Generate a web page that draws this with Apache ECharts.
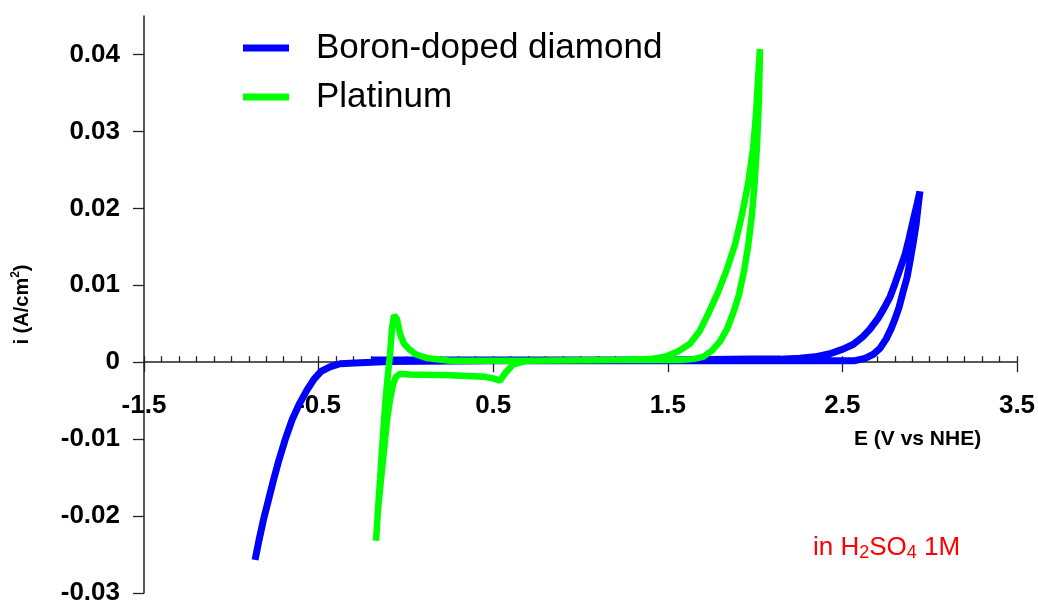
<!DOCTYPE html>
<html>
<head>
<meta charset="utf-8">
<title>Cyclic voltammetry: BDD vs Pt</title>
<script src="https://cdn.jsdelivr.net/npm/echarts@6/dist/echarts.min.js"></script>
<style>
  html, body { margin: 0; padding: 0; background: #fff; }
  #chart { width: 1038px; height: 603px; }
</style>
</head>
<body>
<div id="chart"></div>
<script>
// Boron-doped diamond voltammogram: potential (V vs NHE) and current density (A/cm2)
const bddE = [-0.864, -0.841, -0.816, -0.787, -0.758, -0.727, -0.692, -0.652, -0.612, -0.566, -0.526, -0.486,
  -0.435, -0.377, -0.292, -0.100, 0.500, 1.500, 2.300, 2.500,
  2.572, 2.629, 2.675, 2.715, 2.750, 2.778, 2.801, 2.824, 2.847, 2.870, 2.887, 2.904, 2.922, 2.933, 2.944,
  2.927, 2.904, 2.881, 2.859, 2.830, 2.801, 2.773, 2.738, 2.704, 2.658, 2.612, 2.561, 2.503, 2.429, 2.343,
  2.257, 2.143, 1.971, 1.500, 0.500, -0.200];
const bddI = [-0.0257, -0.0231, -0.0205, -0.0179, -0.0153, -0.0127, -0.0101, -0.0075, -0.0055, -0.0036, -0.0022, -0.0012,
  -0.0006, -0.0002, -0.0001, 0.0001, 0.0002, 0.0002, 0.0002, 0.0002,
  0.0002, 0.0005, 0.0010, 0.0018, 0.0030, 0.0043, 0.0056, 0.0071, 0.0091, 0.0110, 0.0131, 0.0153, 0.0179, 0.0201, 0.0222,
  0.0205, 0.0183, 0.0160, 0.0140, 0.0121, 0.0102, 0.0085, 0.0070, 0.0057, 0.0043, 0.0032, 0.0023, 0.0017, 0.0011, 0.0007,
  0.0005, 0.0004, 0.0004, 0.0003, 0.0003, 0.0003];

// Platinum voltammogram
const ptE = [-0.171, -0.160, -0.148, -0.137, -0.125, -0.114, -0.103, -0.091, -0.080, -0.068, -0.051, -0.034, -0.011,
  0.018, 0.058, 0.127, 0.253, 0.700, 1.200, 1.570,
  1.644, 1.702, 1.753, 1.799, 1.839, 1.873, 1.908, 1.936, 1.959, 1.982, 1.999, 2.011, 2.022, 2.028,
  2.017, 2.005, 1.988, 1.959, 1.925, 1.885, 1.839, 1.788, 1.736, 1.684, 1.627, 1.558, 1.484, 1.398, 1.226,
  0.694, 0.613, 0.573, 0.539, 0.499, 0.453, 0.253, 0.023, -0.034, -0.057, -0.074, -0.091, -0.108, -0.125,
  -0.143, -0.160, -0.171];
const ptI = [-0.0232, -0.0192, -0.0153, -0.0114, -0.0075, -0.0042, -0.0016, 0.0010, 0.0043, 0.0061, 0.0056, 0.0037, 0.0024,
  0.0017, 0.0010, 0.0005, 0.0002, 0.0002, 0.0003, 0.0003,
  0.0004, 0.0007, 0.0015, 0.0027, 0.0043, 0.0063, 0.0088, 0.0118, 0.0149, 0.0192, 0.0238, 0.0283, 0.0342, 0.0407,
  0.0368, 0.0322, 0.0277, 0.0231, 0.0192, 0.0153, 0.0121, 0.0091, 0.0065, 0.0041, 0.0024, 0.0014, 0.0007, 0.0004, 0.0003,
  0.0002, -0.0003, -0.0013, -0.0024, -0.0021, -0.0019, -0.0017, -0.0016, -0.0015, -0.0019, -0.0029, -0.0049, -0.0075, -0.0114,
  -0.0153, -0.0192, -0.0232];

const seriesNames = ['Boron-doped diamond', 'Platinum'];
const seriesColors = ['#0000ff', '#00ff00'];

// Axis tick positions and labels
const xMajorTicks = [-1.5, -0.5, 0.5, 1.5, 2.5, 3.5];
const yTicks = [-0.03, -0.02, -0.01, 0, 0.01, 0.02, 0.03, 0.04];
const xMinorStep = 0.1;

const xMinorTicks = [];
for (let k = 0; k <= 50; k++) {
  xMinorTicks.push(Math.round((xMajorTicks[0] + k * xMinorStep) * 10) / 10);
}

const zip = (xs, ys) => xs.map((x, j) => [x, ys[j]]);

const FONT = 'Arial, "Liberation Sans", sans-serif';
const AXIS_COLOR = '#222';

// plot box and the y range; the E axis is drawn along i = 0
const GRID = { left: 144, right: 21, top: 16, bottom: 10 };
const Y_MIN = -0.03, Y_MAX = 0.045;
const plotHeight = 603 - GRID.top - GRID.bottom;
const zeroOffset = -plotHeight * (0 - Y_MIN) / (Y_MAX - Y_MIN);

const chart = echarts.init(document.getElementById('chart'), null, { renderer: 'canvas' });

chart.setOption({
  animation: false,
  backgroundColor: '#ffffff',
  grid: Object.assign({ containLabel: false, outerBoundsMode: 'none' }, GRID),
  legend: {
    data: seriesNames,
    orient: 'vertical',
    left: 238,
    top: 18.5,
    icon: 'rect',
    itemWidth: 46,
    itemHeight: 7,
    itemGap: 0,
    selectedMode: false,
    textStyle: {
      fontFamily: FONT,
      fontSize: 35,
      color: '#000',
      lineHeight: 49,
      padding: [0, 0, 0, 22]
    }
  },
  xAxis: [
    {
      type: 'value',
      min: -1.5,
      max: 3.5,
      position: 'bottom',
      offset: zeroOffset,
      axisLine: { show: true, onZero: false, lineStyle: { color: AXIS_COLOR, width: 1.5 } },
      axisTick: { show: true, length: 10, customValues: xMajorTicks, lineStyle: { color: AXIS_COLOR, width: 1.3 } },
      axisLabel: {
        customValues: xMajorTicks,
        formatter: v => String(v),
        margin: 31,
        fontFamily: FONT,
        fontSize: 26,
        fontWeight: 'bold',
        color: '#000'
      },
      splitLine: { show: false }
    },
    {
      // fine 0.1 V ticks pointing up from the zero line
      type: 'value',
      min: -1.5,
      max: 3.5,
      position: 'bottom',
      offset: zeroOffset,
      axisLine: { show: false, onZero: false },
      axisTick: { show: true, inside: true, length: 6, customValues: xMinorTicks, lineStyle: { color: AXIS_COLOR, width: 1.3 } },
      axisLabel: { show: false },
      splitLine: { show: false }
    }
  ],
  yAxis: {
    type: 'value',
    min: Y_MIN,
    max: Y_MAX,
    position: 'left',
    axisLine: { show: true, onZero: false, lineStyle: { color: AXIS_COLOR, width: 1.5 } },
    axisTick: { show: true, length: 11, customValues: yTicks, lineStyle: { color: AXIS_COLOR, width: 1.3 } },
    axisLabel: {
      customValues: yTicks,
      formatter: v => String(v),
      margin: 24,
      fontFamily: FONT,
      fontSize: 26,
      fontWeight: 'bold',
      color: '#000'
    },
    splitLine: { show: false },
    name: '{n|i (A/cm}{s|2}{n|)}',
    nameLocation: 'middle',
    nameRotate: 90,
    nameGap: 110,
    nameTextStyle: {
      rich: {
        n: { fontFamily: FONT, fontSize: 20, fontWeight: 'bold', color: '#000', lineHeight: 24 },
        s: { fontFamily: FONT, fontSize: 12, fontWeight: 'bold', color: '#000', lineHeight: 12, verticalAlign: 'top' }
      }
    }
  },
  graphic: [
    {
      type: 'text',
      left: 854,
      top: 429,
      style: {
        text: 'E (V vs NHE)',
        font: 'bold 21px ' + FONT,
        fill: '#000'
      }
    },
    {
      type: 'text',
      left: 813,
      top: 535,
      style: {
        text: '{a|in H}{b|2}{a|SO}{b|4}{a| 1M}',
        rich: {
          a: { fontFamily: FONT, fontSize: 26, fill: '#ff0000', lineHeight: 28 },
          b: { fontFamily: FONT, fontSize: 18, fill: '#ff0000', lineHeight: 12, verticalAlign: 'bottom' }
        }
      }
    }
  ],
  series: [
    {
      name: seriesNames[0],
      type: 'line',
      xAxisIndex: 0,
      data: zip(bddE, bddI),
      showSymbol: false,
      color: seriesColors[0],
      lineStyle: { width: 7, color: seriesColors[0] },
      z: 2
    },
    {
      name: seriesNames[1],
      type: 'line',
      xAxisIndex: 0,
      data: zip(ptE, ptI),
      showSymbol: false,
      color: seriesColors[1],
      lineStyle: { width: 6.5, color: seriesColors[1] },
      z: 3
    }
  ]
});
</script>
</body>
</html>
